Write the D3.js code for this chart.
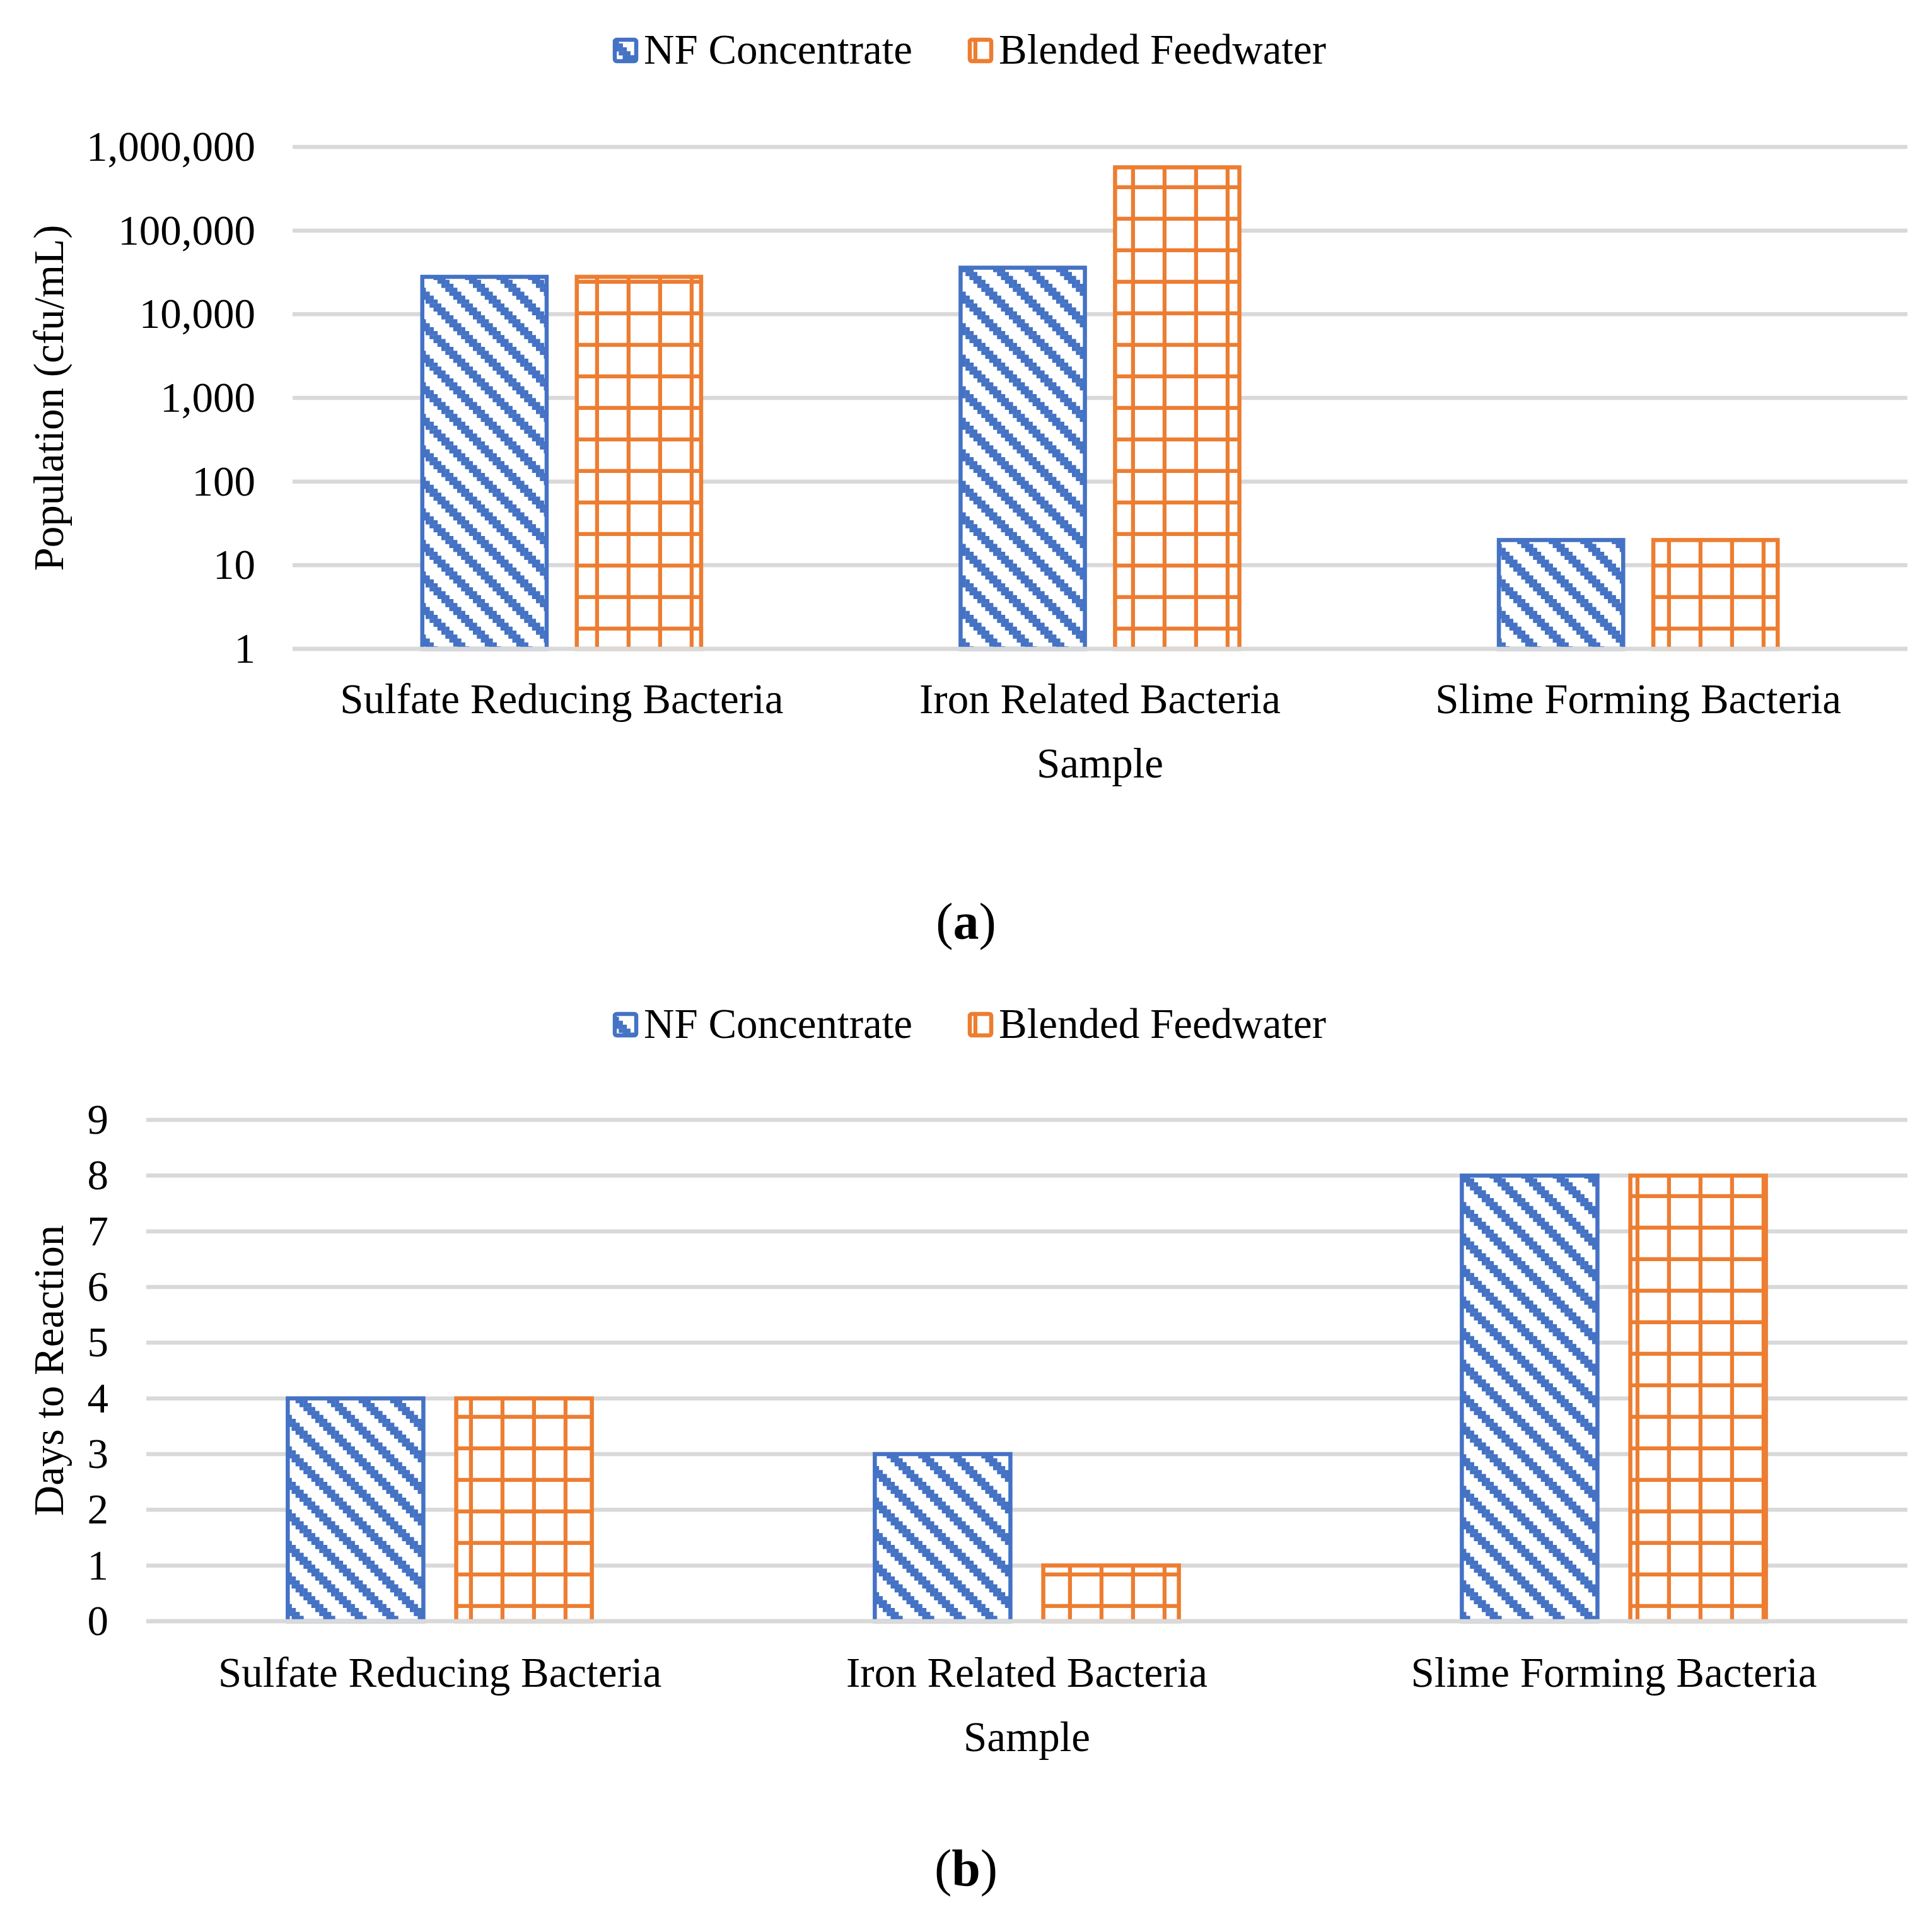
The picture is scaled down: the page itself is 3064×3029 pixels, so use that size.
<!DOCTYPE html>
<html>
<head>
<meta charset="utf-8">
<script src="https://cdn.jsdelivr.net/npm/d3@7"></script>
<style>
  body { margin: 0; background: #fff; }
  text { font-family: "Liberation Serif", "Times New Roman", serif; fill: #000; }
</style>
</head>
<body>
<script>
// chart data
var categories = ["Sulfate Reducing Bacteria", "Iron Related Bacteria", "Slime Forming Bacteria"];
var seriesNames = ["NF Concentrate", "Blended Feedwater"];
var populationNF = [28000, 36000, 20];
var populationBlended = [28000, 570000, 20];
var daysNF = [4, 3, 8];
var daysBlended = [4, 1, 8];
var populationTicks = [1, 10, 100, 1000, 10000, 100000, 1000000];
var dayTicks = [0, 1, 2, 3, 4, 5, 6, 7, 8, 9];

var width = 3064, height = 3029;
var fontSize = 67;
var colors = ["#4472C4", "#ED7D31"];
var patternIds = ["hatchBlue", "gridOrange"];

var svg = d3.select("body")
  .append("svg")
    .attr("width", width)
    .attr("height", height);

// fill patterns (8x8 cells, scaled up like the office ones)
var defs = svg.append("defs");
var cell = 6.25;

var hatch = defs.append("pattern")
    .attr("id", "hatchBlue")
    .attr("patternUnits", "userSpaceOnUse")
    .attr("width", 50)
    .attr("height", 50);
hatch.append("rect").attr("width", 50).attr("height", 50).attr("fill", "#fff");
d3.range(8).forEach(function(r) {
  [r, (r + 1) % 8, (r + 2) % 8].forEach(function(c) {
    hatch.append("rect")
      .attr("x", c * cell)
      .attr("y", r * cell)
      .attr("width", cell + 0.4)
      .attr("height", cell + 0.4)
      .attr("fill", colors[0]);
  });
});

var grid = defs.append("pattern")
    .attr("id", "gridOrange")
    .attr("patternUnits", "userSpaceOnUse")
    .attr("width", 50)
    .attr("height", 50);
grid.append("rect").attr("width", 50).attr("height", 50).attr("fill", "#fff");
grid.append("rect").attr("x", 7 * cell).attr("y", 0).attr("width", cell).attr("height", 50).attr("fill", colors[1]);
grid.append("rect").attr("x", 0).attr("y", 7 * cell).attr("width", 50).attr("height", cell).attr("fill", colors[1]);

function drawPanel(p) {
  var g = svg.append("g");

  var x0 = d3.scaleBand()
    .domain(categories)
    .range([p.left, p.right]);

  var bw = x0.bandwidth();
  var barW = bw * 0.231, gap = bw * 0.056;
  var x1 = d3.scaleOrdinal()
    .domain([0, 1])
    .range([bw / 2 - gap / 2 - barW, bw / 2 + gap / 2]);

  var y = p.y;

  // gridlines
  g.append("g")
    .selectAll("line")
    .data(p.ticks)
    .enter()
    .append("line")
      .attr("x1", p.left)
      .attr("x2", p.right)
      .attr("y1", function(d) { return y(d); })
      .attr("y2", function(d) { return y(d); })
      .attr("stroke", "#d9d9d9")
      .attr("stroke-width", 6.5);

  // tick labels
  g.append("g")
    .selectAll("text")
    .data(p.ticks)
    .enter()
    .append("text")
      .attr("x", p.tickRight)
      .attr("y", function(d) { return y(d) + 22; })
      .attr("text-anchor", "end")
      .attr("font-size", fontSize)
      .text(p.format);

  // bars
  var rows = [];
  categories.forEach(function(c, i) {
    p.series.forEach(function(s, j) {
      rows.push({cat: c, s: j, v: s[i]});
    });
  });

  g.append("g")
    .selectAll("rect")
    .data(rows)
    .enter()
    .append("rect")
      .attr("x", function(d) { return x0(d.cat) + x1(d.s); })
      .attr("y", function(d) { return y(d.v); })
      .attr("width", barW)
      .attr("height", function(d) { return y(p.base) - y(d.v); })
      .attr("fill", function(d) { return "url(#" + patternIds[d.s] + ")"; })
      .attr("stroke", function(d) { return colors[d.s]; })
      .attr("stroke-width", 6.5);

  // baseline sits over the bars
  g.append("line")
    .attr("x1", p.left)
    .attr("x2", p.right)
    .attr("y1", y(p.base))
    .attr("y2", y(p.base))
    .attr("stroke", "#d9d9d9")
    .attr("stroke-width", 6.5);

  // category labels
  g.append("g")
    .selectAll("text")
    .data(categories)
    .enter()
    .append("text")
      .attr("x", function(d) { return x0(d) + bw / 2; })
      .attr("y", p.catY)
      .attr("text-anchor", "middle")
      .attr("font-size", fontSize)
      .text(function(d) { return d; });

  g.append("text")
    .attr("x", (p.left + p.right) / 2)
    .attr("y", p.catY + 102)
    .attr("text-anchor", "middle")
    .attr("font-size", fontSize)
    .text("Sample");

  var midY = (y.range()[0] + y.range()[1]) / 2;
  g.append("text")
    .attr("transform", "translate(100," + midY + ") rotate(-90)")
    .attr("text-anchor", "middle")
    .attr("font-size", fontSize)
    .text(p.yTitle);

  // legend
  var leg = g.append("g");
  var legX = [972, 1535];
  seriesNames.forEach(function(name, j) {
    leg.append("rect")
      .attr("x", legX[j] + 3)
      .attr("y", p.legendY - 17)
      .attr("width", 34)
      .attr("height", 34)
      .attr("rx", 3)
      .attr("fill", "url(#" + patternIds[j] + ")")
      .attr("stroke", colors[j])
      .attr("stroke-width", 6.5);
    leg.append("text")
      .attr("x", legX[j] + 49)
      .attr("y", p.legendY + 21)
      .attr("font-size", fontSize)
      .text(name);
  });

  // panel label
  var lab = g.append("text")
    .attr("x", width / 2)
    .attr("y", p.labelY)
    .attr("text-anchor", "middle")
    .attr("font-size", 82);
  lab.append("tspan").text("(");
  lab.append("tspan").attr("font-weight", "bold").text(p.label);
  lab.append("tspan").text(")");
}

drawPanel({
  left: 464, right: 3025,
  y: d3.scaleLog().domain([1, 1000000]).range([1029, 233]),
  ticks: populationTicks,
  base: 1,
  format: d3.format(","),
  series: [populationNF, populationBlended],
  tickRight: 405,
  catY: 1131,
  yTitle: "Population (cfu/mL)",
  legendY: 80,
  label: "a",
  labelY: 1489
});

drawPanel({
  left: 232, right: 3025,
  y: d3.scaleLinear().domain([0, 9]).range([2571, 1776]),
  ticks: dayTicks,
  base: 0,
  format: d3.format("d"),
  series: [daysNF, daysBlended],
  tickRight: 172,
  catY: 2675,
  yTitle: "Days to Reaction",
  legendY: 1625,
  label: "b",
  labelY: 2990
});
</script>
</body>
</html>
